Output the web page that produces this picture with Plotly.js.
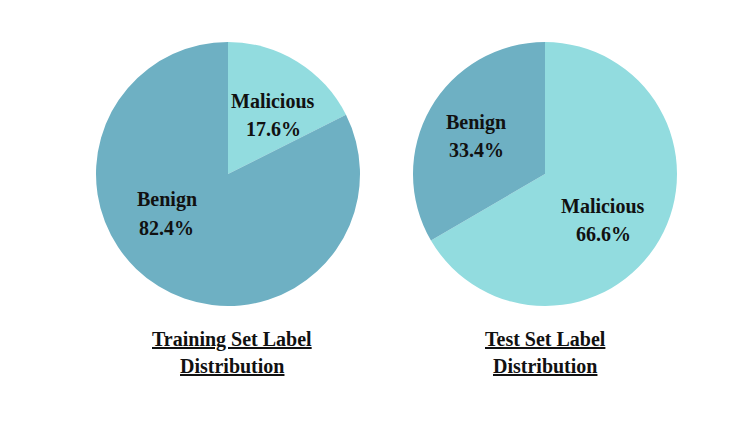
<!DOCTYPE html>
<html>
<head>
<meta charset="utf-8">
<script src="https://cdn.plot.ly/plotly-3.0.1.min.js"></script>
<style>html,body{margin:0;padding:0;background:#fff;}#chart{width:742px;height:429px;}</style>
</head>
<body>
<div id="chart"></div>
<script>
const labels = ["Malicious", "Benign"];
const trainValues = [17.6, 82.4];
const testValues = [66.6, 33.4];
const titleLines = [["Training Set Label", "Distribution"], ["Test Set Label", "Distribution"]];
const colors = ["#92DCDF", "#6EB0C3"];

const W = 742, H = 429;
// layout: pie centres / radius, label anchors (pixels)
const pies = [{cx: 228, cy: 174, r: 132, title: 232}, {cx: 545, cy: 174, r: 132, title: 545}];
const labelAnchors = [[[273, 115], [166.5, 213.5]], [[603, 220], [476, 136.5]]];

function dom(cx, cy, r) {
  return {x: [(cx - r) / W, (cx + r) / W], y: [1 - (cy + r) / H, 1 - (cy - r) / H]};
}
const font = {family: "Liberation Serif, Times New Roman, serif", size: 20, color: "#111"};

function pie(values, p) {
  return {
    type: "pie", labels: labels, values: values, sort: false, direction: "clockwise", rotation: 0,
    marker: {colors: colors, line: {width: 0}},
    textinfo: "none", hoverinfo: "none", showlegend: false, domain: dom(p.cx, p.cy, p.r)
  };
}
const allValues = [trainValues, testValues];
const data = allValues.map((v, i) => pie(v, pies[i]));

function ann(text, px, py) {
  return {text: text, x: px / W, y: 1 - py / H, xref: "paper", yref: "paper",
    xanchor: "center", yanchor: "middle", showarrow: false, font: font, align: "center"};
}
const annotations = [];
allValues.forEach((vals, i) => {
  const tot = vals.reduce((a, b) => a + b, 0);
  vals.forEach((v, j) => {
    const [ax, ay] = labelAnchors[i][j];
    annotations.push(ann("<b>" + labels[j] + "</b>", ax, ay - 14));
    annotations.push(ann("<b>" + (100 * v / tot).toFixed(1) + "%</b>", ax, ay + 14));
  });
  titleLines[i].forEach((t, k) => {
    annotations.push(ann("<b><u>" + t + "</u></b>", pies[i].title, 339 + 27 * k));
  });
});

const layout = {
  width: W, height: H, margin: {l: 0, r: 0, t: 0, b: 0},
  paper_bgcolor: "#fff", plot_bgcolor: "#fff", annotations: annotations
};
Plotly.newPlot("chart", data, layout, {displayModeBar: false, staticPlot: true});
</script>
</body>
</html>
